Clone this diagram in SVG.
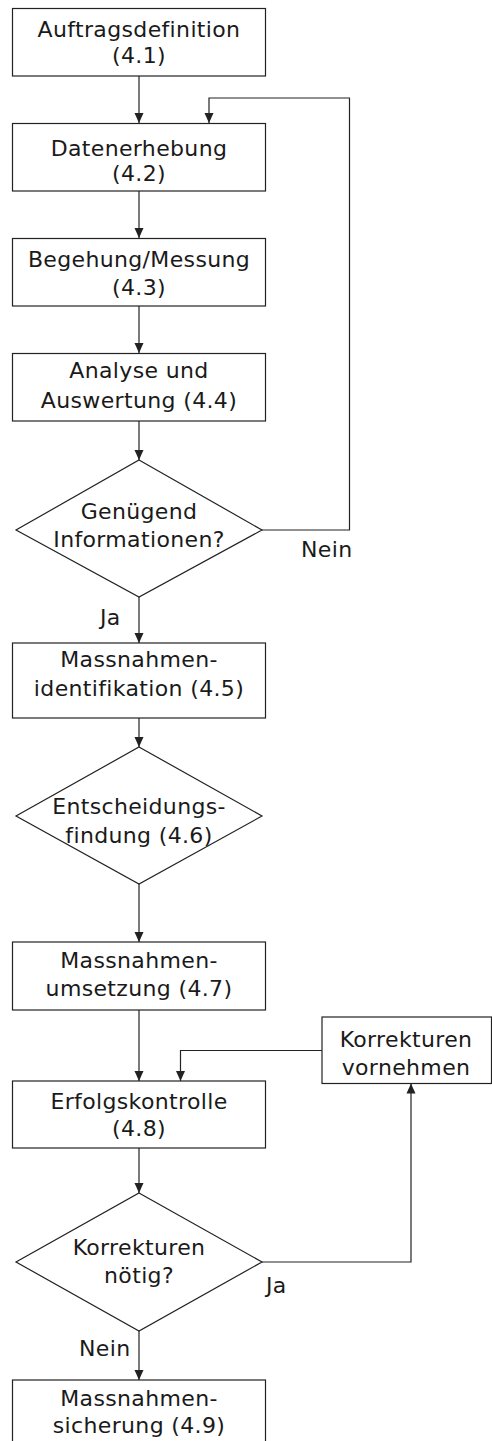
<svg xmlns="http://www.w3.org/2000/svg" width="492" height="1441" viewBox="0 0 492 1441">
<style>
.box{fill:#fff;stroke:#222;stroke-width:1.2}
.con{fill:none;stroke:#222;stroke-width:1.2}
text{font-family:"DejaVu Sans","Liberation Sans",sans-serif;font-size:22px;fill:#1a1a1a;letter-spacing:0.35px}
.c{text-anchor:middle}
</style>
<defs>
<marker id="arr" markerUnits="userSpaceOnUse" markerWidth="10" markerHeight="10" refX="10" refY="4.5" orient="auto" viewBox="0 0 10 9">
<path d="M0,0 L10,4.5 L0,9 z" fill="#222"/>
</marker>
</defs>
<rect width="492" height="1441" fill="#fff"/>
<g id="connectors">
<path class="con" d="M139,76 V123" marker-end="url(#arr)"/>
<path class="con" d="M139,191 V238" marker-end="url(#arr)"/>
<path class="con" d="M139,306 V353" marker-end="url(#arr)"/>
<path class="con" d="M139,421 V460" marker-end="url(#arr)"/>
<path class="con" d="M262,530 H349.5 V98 H209 V123" marker-end="url(#arr)"/>
<path class="con" d="M139,597 V643" marker-end="url(#arr)"/>
<path class="con" d="M139,718 V747" marker-end="url(#arr)"/>
<path class="con" d="M139,884 V942" marker-end="url(#arr)"/>
<path class="con" d="M139,1010 V1081" marker-end="url(#arr)"/>
<path class="con" d="M322,1050.5 H180.5 V1081" marker-end="url(#arr)"/>
<path class="con" d="M139,1148 V1193" marker-end="url(#arr)"/>
<path class="con" d="M262,1262 H411 V1083.5" marker-end="url(#arr)"/>
<path class="con" d="M139,1331 V1380" marker-end="url(#arr)"/>
<text x="301" y="557">Nein</text>
<text x="100" y="625">Ja</text>
<text x="266" y="1293">Ja</text>
<text x="79" y="1356">Nein</text>
</g>
<g id="n1"><rect class="box" x="12.5" y="8.5" width="253" height="67.5"/>
<text class="c" x="139" y="37">Auftragsdefinition</text><text class="c" x="139" y="63">(4.1)</text></g>
<g id="n2"><rect class="box" x="12.5" y="123.5" width="253" height="67.5"/>
<text class="c" x="139" y="156">Datenerhebung</text><text class="c" x="139" y="181">(4.2)</text></g>
<g id="n3"><rect class="box" x="12.5" y="238.5" width="253" height="67.5"/>
<text class="c" x="139" y="267">Begehung/Messung</text><text class="c" x="139" y="295">(4.3)</text></g>
<g id="n4"><rect class="box" x="12.5" y="353.5" width="253" height="67.5"/>
<text class="c" x="139" y="378">Analyse und</text><text class="c" x="139" y="408">Auswertung (4.4)</text></g>
<g id="d1"><polygon class="box" points="139,460 262,530 139,597 16,530"/>
<text class="c" x="139" y="519">Genügend</text><text class="c" x="139" y="547">Informationen?</text></g>
<g id="n5"><rect class="box" x="12.5" y="643" width="253" height="75"/>
<text class="c" x="139" y="667">Massnahmen-</text><text class="c" x="139" y="696">identifikation (4.5)</text></g>
<g id="d2"><polygon class="box" points="139,747 262,816 139,884 16,816"/>
<text class="c" x="139" y="814">Entscheidungs-</text><text class="c" x="139" y="843">findung (4.6)</text></g>
<g id="n6"><rect class="box" x="12.5" y="942" width="253" height="68"/>
<text class="c" x="139" y="968">Massnahmen-</text><text class="c" x="139" y="996">umsetzung (4.7)</text></g>
<g id="n7"><rect class="box" x="12.5" y="1081" width="253" height="67"/>
<text class="c" x="139" y="1109">Erfolgskontrolle</text><text class="c" x="139" y="1136">(4.8)</text></g>
<g id="nk"><rect class="box" x="322" y="1017" width="169.5" height="66.5"/>
<text class="c" x="406" y="1047">Korrekturen</text><text class="c" x="406" y="1075">vornehmen</text></g>
<g id="d3"><polygon class="box" points="139,1193 262,1262 139,1331 16,1262"/>
<text class="c" x="139" y="1255">Korrekturen</text><text class="c" x="139" y="1283">nötig?</text></g>
<g id="n9"><rect class="box" x="12.5" y="1380" width="253" height="70"/>
<text class="c" x="139" y="1406">Massnahmen-</text><text class="c" x="139" y="1433">sicherung (4.9)</text></g>
</svg>
